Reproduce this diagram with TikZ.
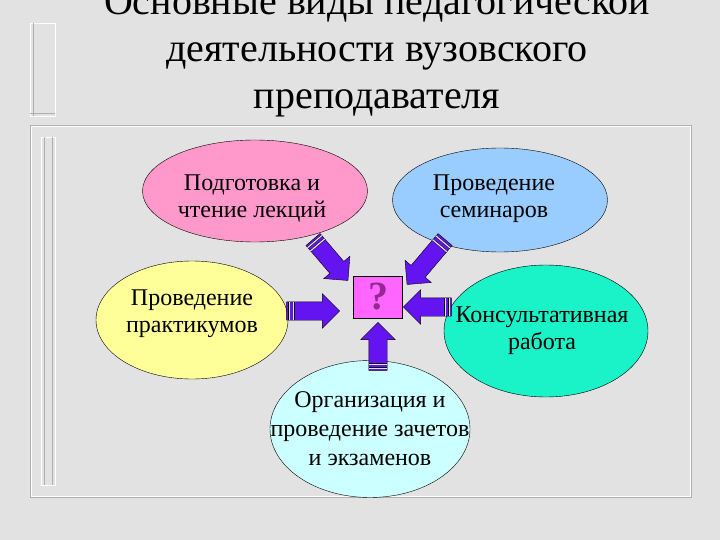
\documentclass[tikz,border=0pt]{standalone}
\usepackage{fontspec}
\setmainfont{Liberation Serif}
\usetikzlibrary{shapes.geometric,shapes.arrows,calc}
\definecolor{marble}{RGB}{226,226,226}
\definecolor{framegray}{RGB}{175,175,175}
\definecolor{lecpink}{RGB}{255,153,204}
\definecolor{semblue}{RGB}{153,204,255}
\definecolor{prakyellow}{RGB}{255,255,153}
\definecolor{konsteal}{RGB}{26,242,200}
\definecolor{examcyan}{RGB}{204,255,255}
\definecolor{arrviolet}{RGB}{100,20,240}
\definecolor{boxmagenta}{RGB}{255,102,255}
\definecolor{qpurple}{RGB}{150,40,150}

\newcommand{\blockarrow}[2]{%
\path let \p1=(#1), \p2=(#2), \n1={atan2(\y2-\y1,\x2-\x1)}, \n2={veclen(\x2-\x1,\y2-\y1)} in
  node[arrowbody,rotate=\n1,minimum height=\n2] (#1#2) at ($(#1)!0.5!(#2)$) {};
\draw[stripe] ($(#1#2.before tail)!0.08!(#1#2.after head)$) -- ($(#1#2.after tail)!0.08!(#1#2.before head)$);
\draw[stripe] ($(#1#2.before tail)!0.2!(#1#2.after head)$) -- ($(#1#2.after tail)!0.2!(#1#2.before head)$);
}

\begin{document}
\begin{tikzpicture}[x=1pt,y=-1pt,
  title/.style={align=center,inner sep=0pt,font=\fontsize{40}{47}\selectfont},
  bubble/.style={ellipse,draw=black,thin},
  bubtext/.style={align=center,inner sep=0pt,font=\fontsize{24}{27}\selectfont},
  arrowbody/.style={single arrow,draw=black,fill=arrviolet,inner xsep=0pt,inner ysep=9pt,
    single arrow head extend=8pt,single arrow tip angle=90},
  stripe/.style={draw=black,double=marble,double distance=1.2pt,thin}]
\useasboundingbox (0,0) rectangle (720,540);
\fill[marble] (0,0) rectangle (720,540);
\draw[framegray] (30,125) rectangle (691,497);
\draw[white] (31,126) rectangle (690,496);
\draw[white] (41,137) rectangle (55,485);
\draw[framegray] (44,137)--(44,485) (52,137)--(52,485);
\draw[white] (30,23) rectangle (55,116);
\draw[framegray] (33,23)--(33,116) (30,113)--(55,113);

\node[title] (head) at (377,52) {Основные виды педагогической\\деятельности вузовского\\преподавателя};

\node[bubble,fill=lecpink,minimum width=225pt,minimum height=102pt] (lec) at (255,191) {};
\node[bubble,fill=semblue,minimum width=215pt,minimum height=104pt] (sem) at (500,200) {};
\node[bubble,fill=prakyellow,minimum width=192pt,minimum height=118pt] (prak) at (192,320) {};
\node[bubble,fill=konsteal,minimum width=204pt,minimum height=132pt] (kons) at (546,331) {};
\node[bubble,fill=examcyan,minimum width=200pt,minimum height=137pt] (exam) at (370,429) {};
\node[bubtext] (lectext) at (252,198) {Подготовка и\\чтение лекций};
\node[bubtext] (semtext) at (494,199) {Проведение\\семинаров};
\node[bubtext] (praktext) at (192,314) {Проведение\\практикумов};
\node[bubtext] (konstext) at (542,331) {Консультативная\\работа};
\node[bubtext,font=\fontsize{24}{29}\selectfont] (examtext) at (370,429) {Организация и\\проведение зачетов\\и экзаменов};

\node[draw=black,fill=boxmagenta,minimum width=49pt,minimum height=42pt,inner sep=0pt] (quest) at (378,297) {};
\node[text=qpurple,font=\fontsize{40}{40}\selectfont\bfseries,inner sep=0pt] (qmark) at (quest) {?};

\coordinate (lecA) at (310,236); \coordinate (lecB) at (345,277);
\coordinate (semA) at (448,236); \coordinate (semB) at (410,281);
\coordinate (prakA) at (282,311); \coordinate (prakB) at (335,311);
\coordinate (konsA) at (456,307); \coordinate (konsB) at (408,307);
\coordinate (examA) at (378,375); \coordinate (examB) at (378,327);
\blockarrow{lecA}{lecB}
\blockarrow{semA}{semB}
\blockarrow{prakA}{prakB}
\blockarrow{konsA}{konsB}
\blockarrow{examA}{examB}
\end{tikzpicture}
\end{document}
